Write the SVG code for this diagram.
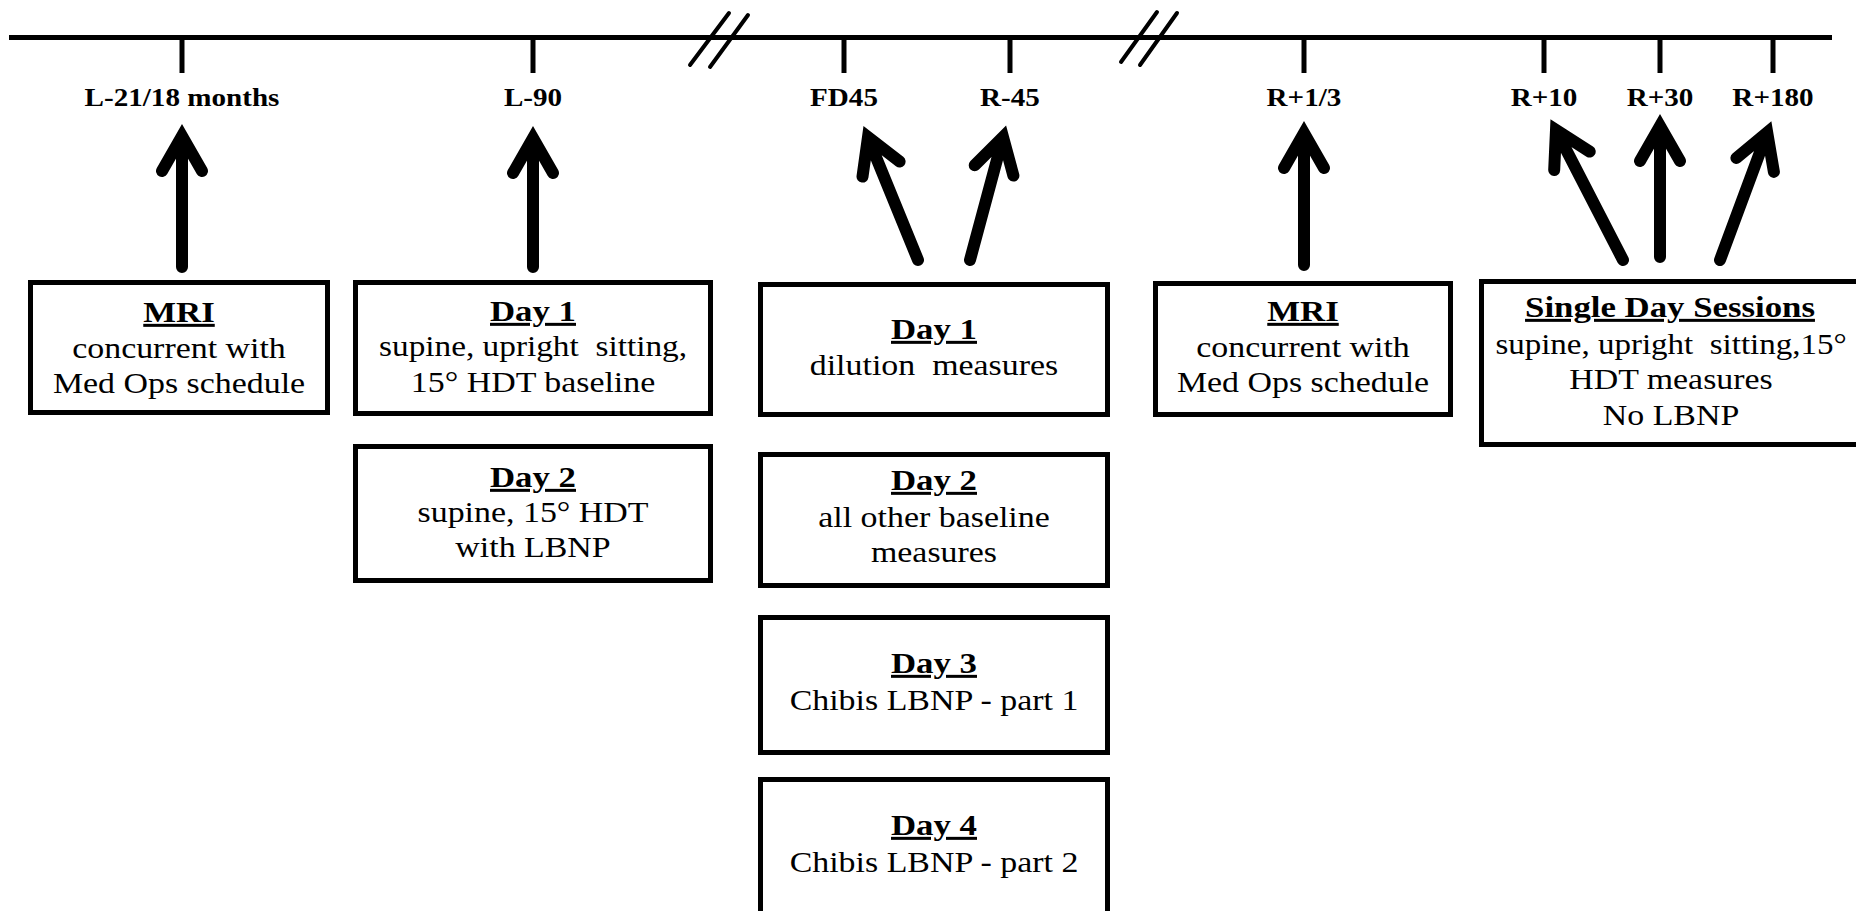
<svg xmlns="http://www.w3.org/2000/svg" width="1856" height="911" viewBox="0 0 1856 911">
<style>
.box{fill:#fff;stroke:#000;stroke-width:5}
.ax{stroke:#000;stroke-width:5;fill:none}
.brk{stroke:#000;stroke-width:4;stroke-linecap:round;fill:none}
.arr{stroke:#000;stroke-width:12;fill:none;stroke-linecap:round;stroke-linejoin:miter}
text{font-family:"Liberation Serif","Times New Roman",serif;fill:#000;text-anchor:middle}
.t{font-size:30px;font-weight:bold;text-decoration:underline}
.r{font-size:30px}
.lab{font-size:26px;font-weight:bold}
</style>
<rect width="1856" height="911" fill="#fff"/>
<g id="timeline">
<line class="ax" x1="9" y1="37.5" x2="1832" y2="37.5"/>
<line class="ax" x1="182" y1="37" x2="182" y2="73"/>
<line class="ax" x1="533" y1="37" x2="533" y2="73"/>
<line class="ax" x1="844" y1="37" x2="844" y2="73"/>
<line class="ax" x1="1010" y1="37" x2="1010" y2="73"/>
<line class="ax" x1="1304" y1="37" x2="1304" y2="73"/>
<line class="ax" x1="1544" y1="37" x2="1544" y2="73"/>
<line class="ax" x1="1660" y1="37" x2="1660" y2="73"/>
<line class="ax" x1="1773" y1="37" x2="1773" y2="73"/>
<line class="brk" x1="690" y1="65" x2="729" y2="13"/>
<line class="brk" x1="710" y1="67" x2="748" y2="15"/>
<line class="brk" x1="1121" y1="62" x2="1157" y2="12"/>
<line class="brk" x1="1140" y1="65" x2="1177" y2="13"/>
</g>
<g id="labels">
<text class="lab" transform="translate(182 106) scale(1.12 1)">L-21/18 months</text>
<text class="lab" transform="translate(533 106) scale(1.12 1)">L-90</text>
<text class="lab" transform="translate(844 106) scale(1.12 1)">FD45</text>
<text class="lab" transform="translate(1010 106) scale(1.12 1)">R-45</text>
<text class="lab" transform="translate(1304 106) scale(1.12 1)">R+1/3</text>
<text class="lab" transform="translate(1544 106) scale(1.12 1)">R+10</text>
<text class="lab" transform="translate(1660 106) scale(1.12 1)">R+30</text>
<text class="lab" transform="translate(1773 106) scale(1.12 1)">R+180</text>
</g>
<g id="connectors">
<path class="arr" d="M182 267 L182 140 M162 171 L182 136 L202 171"/>
<path class="arr" d="M533 267 L533 142 M513 173 L533 138 L553 173"/>
<path class="arr" d="M918 260 L869 140 M862.5 176.6 L868 137 L899.6 161.5"/>
<path class="arr" d="M970 260 L1002 141 M974.7 165.3 L1003 137 L1013.4 175.6"/>
<path class="arr" d="M1304 265 L1304 137 M1284 168 L1304 133 L1324 168"/>
<path class="arr" d="M1623 260 L1558 134 M1554.2 170 L1556 130 L1589.7 151.6"/>
<path class="arr" d="M1660 257 L1660 130 M1640 161 L1660 126 L1680 161"/>
<path class="arr" d="M1720 260 L1766 136 M1736.4 158 L1767.2 132.5 L1773.9 171.9"/>
</g>
<g id="mri-pre">
<rect class="box" x="30.5" y="282.5" width="297" height="130"/>
<text class="t" transform="translate(179 322) scale(1.16 1)">MRI</text>
<text class="r" transform="translate(179 358) scale(1.13 1)">concurrent with</text>
<text class="r" transform="translate(179 393) scale(1.13 1)">Med Ops schedule</text>
</g>
<g id="l90-day1">
<rect class="box" x="355.5" y="282.5" width="355" height="131"/>
<text class="t" transform="translate(533 321) scale(1.16 1)">Day 1</text>
<text class="r" xml:space="preserve" transform="translate(533 356) scale(1.11 1)">supine, upright  sitting,</text>
<text class="r" transform="translate(533 392) scale(1.13 1)">15° HDT baseline</text>
</g>
<g id="l90-day2">
<rect class="box" x="355.5" y="446.5" width="355" height="134"/>
<text class="t" transform="translate(533 487) scale(1.16 1)">Day 2</text>
<text class="r" transform="translate(533 522) scale(1.13 1)">supine, 15° HDT</text>
<text class="r" transform="translate(533 557) scale(1.13 1)">with LBNP</text>
</g>
<g id="fd-day1">
<rect class="box" x="760.5" y="284.5" width="347" height="130"/>
<text class="t" transform="translate(934 339) scale(1.16 1)">Day 1</text>
<text class="r" xml:space="preserve" transform="translate(934 375) scale(1.13 1)">dilution  measures</text>
</g>
<g id="fd-day2">
<rect class="box" x="760.5" y="454.5" width="347" height="131"/>
<text class="t" transform="translate(934 490) scale(1.16 1)">Day 2</text>
<text class="r" transform="translate(934 527) scale(1.13 1)">all other baseline</text>
<text class="r" transform="translate(934 562) scale(1.13 1)">measures</text>
</g>
<g id="fd-day3">
<rect class="box" x="760.5" y="617.5" width="347" height="135"/>
<text class="t" transform="translate(934 673) scale(1.16 1)">Day 3</text>
<text class="r" transform="translate(934 710) scale(1.13 1)">Chibis LBNP - part 1</text>
</g>
<g id="fd-day4">
<rect class="box" x="760.5" y="779.5" width="347" height="200"/>
<text class="t" transform="translate(934 835) scale(1.16 1)">Day 4</text>
<text class="r" transform="translate(934 872) scale(1.13 1)">Chibis LBNP - part 2</text>
</g>
<g id="mri-post">
<rect class="box" x="1155.5" y="283.5" width="295" height="131"/>
<text class="t" transform="translate(1303 321) scale(1.16 1)">MRI</text>
<text class="r" transform="translate(1303 357) scale(1.13 1)">concurrent with</text>
<text class="r" transform="translate(1303 392) scale(1.13 1)">Med Ops schedule</text>
</g>
<g id="single-day">
<rect class="box" x="1481.5" y="281.5" width="450" height="163"/>
<text class="t" transform="translate(1670 317) scale(1.16 1)">Single Day Sessions</text>
<text class="r" xml:space="preserve" transform="translate(1671 354) scale(1.10 1)">supine, upright  sitting,15°</text>
<text class="r" transform="translate(1671 389) scale(1.13 1)">HDT measures</text>
<text class="r" transform="translate(1671 425) scale(1.13 1)">No LBNP</text>
</g>
</svg>
